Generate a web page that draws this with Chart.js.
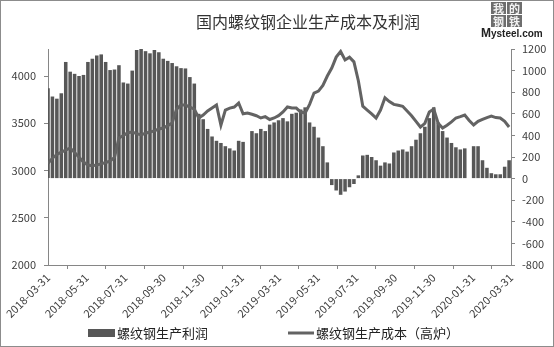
<!DOCTYPE html>
<html>
<head>
<meta charset="utf-8">
<script src="https://cdn.jsdelivr.net/npm/chart.js@4.4.1/dist/chart.umd.min.js"></script>
<style>
  html, body { margin: 0; padding: 0; background: #fff; }
  #wrap { width: 554px; height: 347px; position: relative; }
</style>
</head>
<body>
<div id="wrap"><canvas id="c" width="554" height="347"></canvas></div>
<script>
// ---------- DATA ----------
const titleText = '国内螺纹钢企业生产成本及利润';
const startDate = '2018-03-31';           // first weekly observation
const weekStepDays = 7;                   // observations are weekly
const tickLabels = ['2018-03-31','2018-05-31','2018-07-31','2018-09-30','2018-11-30','2019-01-31',
                    '2019-03-31','2019-05-31','2019-07-31','2019-09-30','2019-11-30','2020-01-31','2020-03-31'];
const leftTicks = [2000, 2500, 3000, 3500, 4000];
const profitLabel = '螺纹钢生产利润';
const costLabel = '螺纹钢生产成本（高炉）';

// weekly profit (right axis, yuan/t)
const profit = [
  837, 760, 740, 790, 1080, 990, 970, 950, 960, 1080,
  1110, 1140, 1150, 1080, 1005, 1010, 1050, 890, 880, 1000,
  1190, 1200, 1180, 1160, 1190, 1170, 1110, 1090, 1070, 1040,
  1023, 1020, 940, 880, 600, 550, 460, 390, 350, 330,
  300, 280, 260, 350, 340, null, 440, 420, 460, 440,
  500, 520, 540, 560, 530, 600, 610, 640, 660, 520,
  480, 380, 300, 150, -60, -110, -150, -120, -80, -50,
  30, 214, 220, 200, 170, 120, 150, 140, 242, 260,
  270, 250, 300, 360, 420, 480, 560, 660, 520, 440,
  380, 330, 290, 270, 280, null, 300, 300, 170, 100,
  50, 40, 40, 110, 170
];
// weekly blast-furnace cost (left axis, yuan/t)
const cost = [
  3076, 3130, 3170, 3195, 3215, 3238, 3190, 3140, 3090, 3058,
  3050, 3058, 3070, 3085, 3100, 3140, 3344, 3370, 3400, 3407,
  3390, 3376, 3395, 3407, 3420, 3440, 3450, 3475, 3503, 3650,
  3693, 3693, 3670, 3650, 3556, 3587, 3630, 3661, 3693, 3480,
  3640, 3660, 3672, 3714, 3600, 3608, 3595, 3580, 3556, 3570,
  3540, 3556, 3580, 3620, 3672, 3661, 3661, 3619, 3608, 3700,
  3820, 3840, 3900, 4000, 4085, 4200, 4260, 4170, 4200, 4150,
  3950, 3680, 3640, 3600, 3556, 3640, 3770, 3730, 3700, 3690,
  3680, 3630, 3580, 3520, 3460, 3500, 3620, 3650, 3500, 3450,
  3480, 3515, 3556, 3570, 3587, 3530, 3482, 3520, 3540, 3560,
  3575, 3560, 3556, 3520, 3460
];

// ---------- helpers ----------
const DAY = 86400000;
function dayOffset(s) {
  const [y, m, d] = s.split('-').map(Number);
  const [y0, m0, d0] = startDate.split('-').map(Number);
  return Math.round((Date.UTC(y, m - 1, d) - Date.UTC(y0, m0 - 1, d0)) / DAY);
}
const tickDays = tickLabels.map(dayOffset);
const profitPts = profit.map((v, i) => ({ x: i * weekStepDays, y: v }));
const costPts = cost.map((v, i) => ({ x: i * weekStepDays, y: v }));

const FONT = '"Noto Sans CJK SC", "Noto Sans", sans-serif';
const TXT = '#404040';
const AXIS = '#868686';
const BAR = '#575757';
const LINE = '#636363';

const decor = {
  id: 'decor',
  afterDraw(chart) {
    const ctx = chart.ctx;
    ctx.save();
    // outer border
    ctx.strokeStyle = '#8c8c8c';
    ctx.lineWidth = 1;
    ctx.strokeRect(0.5, 0.5, 553, 346);
    // title
    ctx.fillStyle = '#333';
    ctx.font = '16px ' + FONT;
    ctx.textAlign = 'center';
    ctx.textBaseline = 'middle';
    ctx.fillText(titleText, 308, 22);
    // logo
    const cells = [['我', 491, 2], ['的', 507, 2], ['钢', 491, 15], ['铁', 507, 15]];
    ctx.font = 'bold 11px ' + FONT;
    cells.forEach(([ch, x, y]) => {
      ctx.fillStyle = '#6e6e6e';
      ctx.fillRect(x, y, 15, 12);
      ctx.fillStyle = '#f2f2f2';
      ctx.fillText(ch, x + 7.5, y + 6.5);
    });
    ctx.fillStyle = '#222';
    ctx.textAlign = 'left';
    ctx.textBaseline = 'alphabetic';
    ctx.font = 'bold 12px "Liberation Sans", sans-serif';
    ctx.fillText('M', 481, 37);
    ctx.font = 'bold 10px "Liberation Sans", sans-serif';
    ctx.fillText('ysteel.com', 491, 37);
    // legend
    const ds = chart.data.datasets;
    const ly = 333;
    ctx.font = '13px ' + FONT;
    ctx.textBaseline = 'middle';
    ctx.fillStyle = ds[0].backgroundColor;
    ctx.fillRect(88, ly - 4, 27, 8);
    ctx.fillStyle = '#222';
    ctx.fillText(ds[0].label, 117, ly);
    ctx.strokeStyle = ds[1].borderColor;
    ctx.lineWidth = 3;
    ctx.beginPath();
    ctx.moveTo(288, ly);
    ctx.lineTo(314, ly);
    ctx.stroke();
    ctx.fillStyle = '#222';
    ctx.fillText(ds[1].label, 316, ly);
    ctx.restore();
  }
};

new Chart(document.getElementById('c'), {
  data: {
    datasets: [
      {
        type: 'bar', label: profitLabel, data: profitPts, yAxisID: 'yR',
        backgroundColor: BAR, borderWidth: 0,
        barPercentage: 1.0, categoryPercentage: 0.8, order: 2
      },
      {
        type: 'line', label: costLabel, data: costPts, yAxisID: 'yL',
        borderColor: LINE, backgroundColor: LINE, borderWidth: 3,
        pointRadius: 0, tension: 0, order: 1
      }
    ]
  },
  options: {
    responsive: false,
    animation: false,
    devicePixelRatio: 1,
    layout: { padding: { top: 49, left: 0, right: 0, bottom: 0 } },
    plugins: { legend: { display: false }, title: { display: false }, tooltip: { enabled: false } },
    scales: {
      x: {
        type: 'linear', min: 0, max: tickDays[tickDays.length - 1], offset: false,
        afterBuildTicks: (s) => { s.ticks = tickDays.map(v => ({ value: v })); },
        afterFit: (s) => { s.height = 82; },
        grid: { display: true, drawOnChartArea: false, color: AXIS, tickLength: 4 },
        border: { display: true, color: AXIS },
        ticks: {
          autoSkip: false, minRotation: 45, maxRotation: 45, padding: 2,
          color: TXT, font: { family: FONT, size: 11 },
          callback: (v) => { const i = tickDays.indexOf(v); return i >= 0 ? tickLabels[i] : ''; }
        }
      },
      yL: {
        type: 'linear', position: 'left', min: 2000, max: 4286,
        afterBuildTicks: (s) => { s.ticks = leftTicks.map(v => ({ value: v })); },
        afterFit: (s) => { s.width = 48; },
        grid: { display: true, drawOnChartArea: false, color: AXIS, tickLength: 4 },
        border: { display: true, color: AXIS },
        ticks: { color: TXT, padding: 8, font: { family: FONT, size: 11 }, callback: (v) => String(v) }
      },
      yR: {
        type: 'linear', position: 'right', min: -800, max: 1200,
        afterFit: (s) => { s.width = 43; },
        grid: { display: true, drawOnChartArea: false, color: AXIS, tickLength: 4 },
        border: { display: true, color: AXIS },
        ticks: { stepSize: 200, color: TXT, padding: 7, font: { family: FONT, size: 11 }, callback: (v) => String(v) }
      }
    }
  },
  plugins: [decor]
});
</script>
</body>
</html>
